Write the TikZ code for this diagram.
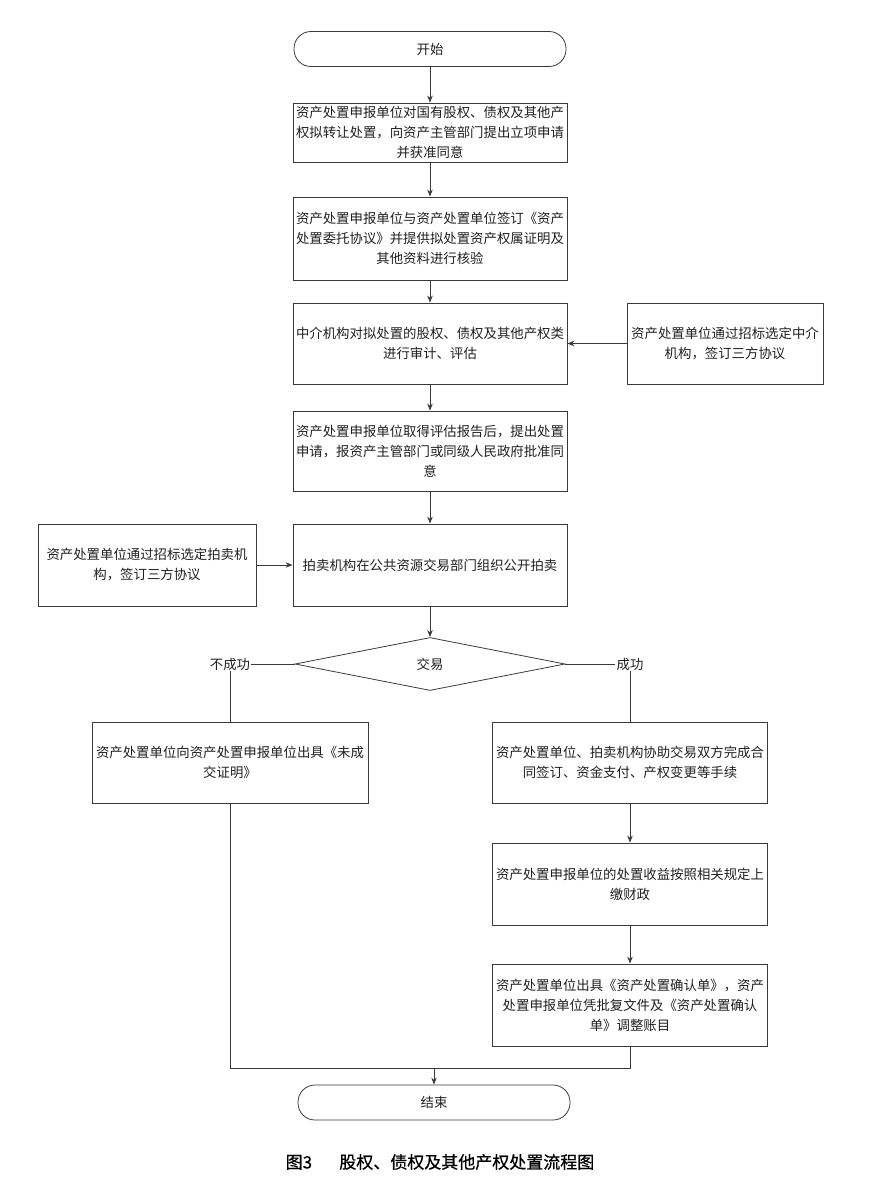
\documentclass[tikz,border=0pt]{standalone}
\usepackage{fontspec}
\setmainfont{Noto Sans CJK SC}
\newfontfamily\capfont[FakeBold=0.6]{Noto Sans CJK SC}
\usetikzlibrary{shapes.geometric,arrows.meta}
\definecolor{ln}{HTML}{3A3A3A}
\definecolor{tx}{HTML}{202020}
\tikzset{
  every node/.style={font=\fontsize{13.4}{20}\selectfont, text=tx},
  boxn/.style={draw=ln, line width=0.8pt, rectangle, inner sep=0pt, align=center, text width=#1, minimum width=#1},
  termn/.style={draw=ln, line width=0.8pt, rectangle, rounded corners=17pt, minimum width=272pt, minimum height=35pt, inner sep=0pt},
  arr/.style={draw=ln, line width=0.8pt, -{Stealth[length=7pt,width=5.5pt]}},
  lin/.style={draw=ln, line width=0.8pt},
}
\begin{document}
\begin{tikzpicture}[x=1pt,y=-1pt]
\useasboundingbox (0,0) rectangle (871,1188);
\node[termn] (start) at (430,49) {开始};
\node[boxn=274pt, minimum height=59pt] (b1) at (430,132.5) {资产处置申报单位对国有股权、债权及其他产\\权拟转让处置，向资产主管部门提出立项申请\\并获准同意};
\node[boxn=274pt, minimum height=83pt] (b2) at (430,238.5) {资产处置申报单位与资产处置单位签订《资产\\处置委托协议》并提供拟处置资产权属证明及\\其他资料进行核验};
\node[boxn=274pt, minimum height=81pt] (b3) at (430,343.5) {中介机构对拟处置的股权、债权及其他产权类\\进行审计、评估};
\node[boxn=196pt, minimum height=81pt] (r3) at (725,343.5) {资产处置单位通过招标选定中介\\机构，签订三方协议};
\node[boxn=274pt, minimum height=80pt] (b4) at (430,451) {资产处置申报单位取得评估报告后，提出处置\\申请，报资产主管部门或同级人民政府批准同\\意};
\node[boxn=274pt, minimum height=82pt] (b5) at (430,565) {拍卖机构在公共资源交易部门组织公开拍卖};
\node[boxn=218pt, minimum height=82pt] (l5) at (147,565) {资产处置单位通过招标选定拍卖机\\构，签订三方协议};
\node[diamond, draw=ln, line width=0.8pt, minimum width=270pt, minimum height=53pt, aspect=5.1, inner sep=0pt] (d) at (430,664) {交易};
\node[inner sep=1pt] (no) at (230,664) {不成功};
\node[inner sep=1pt] (yes) at (630,664) {成功};
\node[boxn=276pt, minimum height=81pt] (lf) at (230,762.5) {资产处置单位向资产处置申报单位出具《未成\\交证明》};
\node[boxn=275pt, minimum height=81pt] (r6) at (630,762.5) {资产处置单位、拍卖机构协助交易双方完成合\\同签订、资金支付、产权变更等手续};
\node[boxn=275pt, minimum height=82pt] (r7) at (630,884) {资产处置申报单位的处置收益按照相关规定上\\缴财政};
\node[boxn=275pt, minimum height=82pt] (r8) at (630,1005) {资产处置单位出具《资产处置确认单》，资产\\处置申报单位凭批复文件及《资产处置确认\\单》调整账目};
\node[termn] (end) at (434,1102.5) {结束};
\node[font=\capfont\fontsize{17}{20}\selectfont, text=black] (cap) at (440,1162) {图3\hspace{1.6em}股权、债权及其他产权处置流程图};
\coordinate (jl) at (230,1068);
\coordinate (jr) at (630,1068);
\coordinate (jm) at (434,1068);
\draw[arr] (start) -- (b1);
\draw[arr] (b1) -- (b2);
\draw[arr] (b2) -- (b3);
\draw[arr] (r3) -- (b3);
\draw[arr] (b3) -- (b4);
\draw[arr] (b4) -- (b5);
\draw[arr] (l5) -- (b5);
\draw[arr] (b5) -- (d);
\draw[lin] (d.west) -- (no.east);
\draw[lin] (d.east) -- (yes.west);
\draw[lin] (no.south) -- (no.south |- lf.north);
\draw[lin] (yes.south) -- (yes.south |- r6.north);
\draw[arr] (r6) -- (r7);
\draw[arr] (r7) -- (r8);
\draw[lin] (lf.south) -- (jl) -- (jr) -- (r8.south);
\draw[arr] (jm) -- (end.north);
\end{tikzpicture}
\end{document}
